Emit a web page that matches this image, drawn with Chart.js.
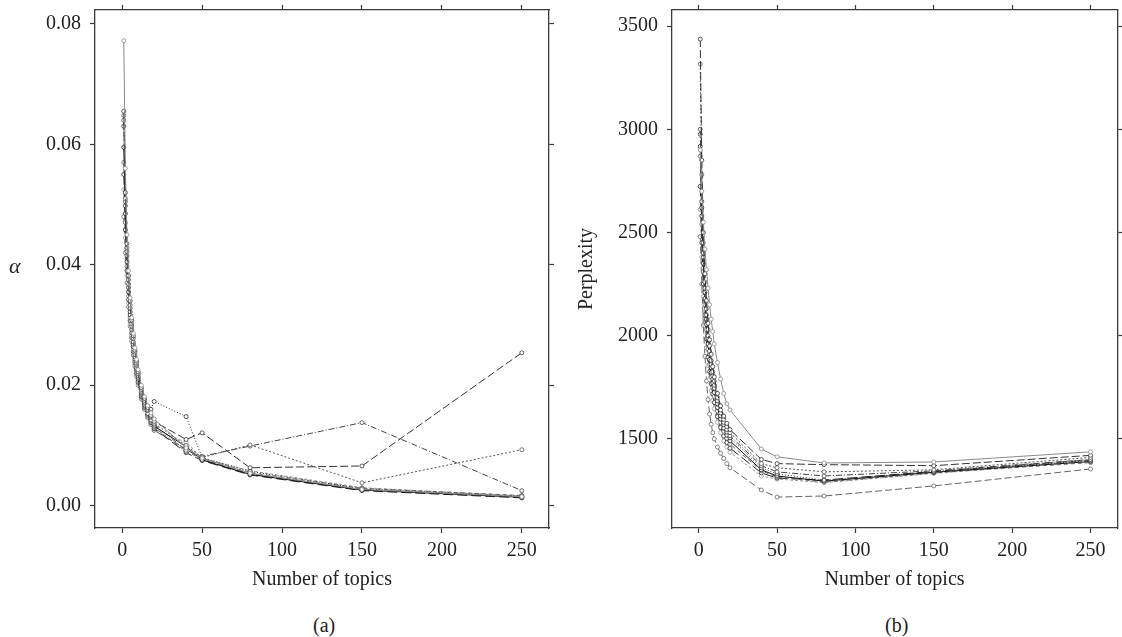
<!DOCTYPE html>
<html>
<head>
<meta charset="utf-8">
<script src="https://cdn.jsdelivr.net/npm/chart.js@4.4.1/dist/chart.umd.min.js"></script>
<style>
  html, body { margin: 0; padding: 0; background: #fff; }
  body { width: 1122px; height: 637px; position: relative; overflow: hidden;
         font-family: "Liberation Serif", "DejaVu Serif", serif; color: #222; }
  canvas { position: absolute; top: 0; }
  #chartA { left: 0; }
  #chartB { left: 561px; }
  .lbl { position: absolute; font-size: 20px; line-height: 20px; }
  #alpha { left: 9px; top: 256px; font-style: italic; font-size: 22px; }
  #capA { left: 313px; top: 615px; }
  #capB { left: 885px; top: 615px; }
</style>
</head>
<body>
<canvas id="chartA" width="561" height="596"></canvas>
<canvas id="chartB" width="561" height="596"></canvas>
<div class="lbl" id="alpha">α</div>
<div class="lbl" id="capA">(a)</div>
<div class="lbl" id="capB">(b)</div>

<script>
// ── Data ──────────────────────────────────────────────────────

const topics      = [1, 2, 3, 4, 5, 6, 7, 8, 9, 10, 12, 14, 16, 18, 20, 40, 50, 80, 150, 250];
const topicTicks  = [0, 50, 100, 150, 200, 250];
const alphaTicks  = [0, 0.02, 0.04, 0.06, 0.08];
const perpTicks   = [1500, 2000, 2500, 3000, 3500];

// α per run
const alpha1  = [0.0772,0.0560,0.0450,0.0390,0.0345,0.0312,0.0286,0.0262,0.0243,0.0226,0.0200,0.0181,0.0166,0.0154,0.0144,0.0096,0.0079,0.0054,0.0027,0.0015];
const alpha2  = [0.0655,0.0520,0.0435,0.0382,0.0340,0.0308,0.0282,0.0258,0.0240,0.0222,0.0196,0.0178,0.0163,0.0150,0.0140,0.0110,0.0121,0.0063,0.0066,0.0254];
const alpha3  = [0.0648,0.0510,0.0428,0.0375,0.0333,0.0302,0.0278,0.0255,0.0236,0.0219,0.0193,0.0175,0.0160,0.0148,0.0137,0.0100,0.0080,0.0101,0.0038,0.0093];
const alpha4  = [0.0640,0.0505,0.0422,0.0368,0.0328,0.0298,0.0272,0.0251,0.0233,0.0216,0.0190,0.0172,0.0158,0.0147,0.0135,0.0092,0.0082,0.0099,0.0138,0.0025];
const alpha5  = [0.0630,0.0498,0.0415,0.0362,0.0322,0.0292,0.0268,0.0247,0.0229,0.0213,0.0188,0.0170,0.0165,0.0160,0.0173,0.0148,0.0080,0.0057,0.0028,0.0016];
const alpha6  = [0.0595,0.0485,0.0405,0.0355,0.0317,0.0287,0.0264,0.0243,0.0226,0.0210,0.0185,0.0167,0.0153,0.0142,0.0132,0.0098,0.0076,0.0052,0.0026,0.0014];
const alpha7  = [0.0570,0.0470,0.0398,0.0348,0.0312,0.0283,0.0260,0.0240,0.0223,0.0207,0.0183,0.0165,0.0151,0.0140,0.0130,0.0090,0.0078,0.0055,0.0029,0.0017];
const alpha8  = [0.0550,0.0458,0.0390,0.0342,0.0307,0.0279,0.0256,0.0237,0.0220,0.0205,0.0181,0.0163,0.0150,0.0138,0.0128,0.0088,0.0075,0.0051,0.0025,0.0013];
const alpha9  = [0.0525,0.0445,0.0382,0.0336,0.0302,0.0275,0.0253,0.0234,0.0218,0.0203,0.0179,0.0161,0.0148,0.0137,0.0127,0.0105,0.0079,0.0058,0.0030,0.0016];
const alpha10 = [0.0480,0.0420,0.0370,0.0330,0.0298,0.0272,0.0250,0.0231,0.0215,0.0200,0.0177,0.0160,0.0146,0.0135,0.0125,0.0094,0.0077,0.0053,0.0027,0.0015];

// perplexity per run
const perp1  = [2900,2700,2550,2420,2320,2230,2150,2080,2020,1960,1870,1790,1720,1670,1640,1451,1413,1383,1388,1437];
const perp2  = [3437,2850,2500,2300,2170,2060,1980,1910,1850,1800,1720,1660,1610,1575,1545,1400,1380,1375,1370,1420];
const perp3  = [3316,2780,2450,2260,2130,2030,1950,1880,1825,1780,1700,1640,1595,1560,1530,1380,1360,1340,1350,1410];
const perp4  = [3000,2650,2400,2230,2100,2000,1925,1860,1805,1760,1685,1625,1580,1545,1515,1370,1340,1320,1345,1400];
const perp5  = [2976,2620,2380,2210,2080,1985,1910,1845,1790,1745,1670,1612,1568,1533,1505,1360,1330,1300,1340,1395];
const perp6  = [2917,2580,2350,2180,2055,1960,1885,1822,1770,1725,1652,1596,1552,1518,1490,1350,1320,1295,1338,1390];
const perp7  = [2869,2540,2310,2150,2030,1935,1860,1800,1748,1705,1635,1580,1537,1503,1475,1345,1315,1290,1335,1385];
const perp8  = [2723,2450,2250,2100,1985,1895,1825,1767,1718,1676,1608,1555,1514,1482,1455,1335,1310,1300,1342,1398];
const perp9  = [2612,2380,2190,2050,1940,1855,1788,1733,1686,1646,1580,1530,1490,1460,1435,1320,1305,1288,1332,1392];
const perp10 = [2480,2250,2050,1900,1780,1690,1620,1570,1530,1500,1460,1430,1405,1380,1360,1252,1218,1223,1272,1354];

const alphaRuns = [alpha1, alpha2, alpha3, alpha4, alpha5, alpha6, alpha7, alpha8, alpha9, alpha10];
const perpRuns  = [perp1, perp2, perp3, perp4, perp5, perp6, perp7, perp8, perp9, perp10];

// ── Styles ────────────────────────────────────────────────────

const lineColors = ['#8a8a8a','#333','#555','#444','#2a2a2a','#111','#666','#222','#999','#666'];
const lineDashes = [[], [8,3], [2,2], [6,2,1,2], [1,2], [], [4,3], [10,4], [3,2], [7,3]];
const inkColor   = '#222';
const frameColor = '#3a3a3a';
const serif      = '"Liberation Serif", "DejaVu Serif", serif';

function _runDatasets(runs) {
  return runs.map((vals, i) => ({
    label: 'run ' + (i + 1),
    data: vals.map((v, j) => ({ x: topics[j], y: v })),
    showLine: true,
    borderColor: lineColors[i],
    borderDash: lineDashes[i],
    borderWidth: 1,
    pointRadius: 2,
    pointBorderWidth: 0.8,
    pointBorderColor: lineColors[i],
    pointBackgroundColor: '#fff'
  }));
}

function _axis(pos, min, max, tickVals, size, extra) {
  const horiz = pos === 'top' || pos === 'bottom';
  return Object.assign({
    type: 'linear',
    position: pos,
    min: min, max: max,
    afterBuildTicks: s => { s.ticks = tickVals.map(v => ({ value: v })); },
    afterFit: s => {
      if (horiz) s.height = size; else s.width = size;
      // frame is placed by hand, no room for label overhang
      s.paddingTop = s.paddingBottom = s.paddingLeft = s.paddingRight = 0;
    },
    grid:   { drawOnChartArea: false, tickLength: 5, color: frameColor, tickWidth: 1.2 },
    border: { color: frameColor, width: 1.3 },
    ticks:  { display: false }
  }, extra || {});
}

function _drawChart(id, runs, yMin, yMax, yTicks, fmt, yTitle, leftW, rightW) {
  const font = { family: serif, size: 20 };
  return new Chart(document.getElementById(id), {
    type: 'scatter',
    data: { datasets: _runDatasets(runs) },
    options: {
      responsive: false,
      animation: false,
      layout: { padding: 0 },
      plugins: { legend: { display: false }, tooltip: { enabled: false } },
      scales: {
        x: _axis('bottom', -17, 267, topicTicks, 68, {
          ticks: { display: true, font: font, color: inkColor, padding: 6, maxRotation: 0, autoSkip: false },
          title: { display: true, text: 'Number of topics', font: font, color: inkColor, padding: { top: 4, bottom: 4 } }
        }),
        x2: _axis('top', -17, 267, topicTicks, 10),
        y: _axis('left', yMin, yMax, yTicks, leftW, {
          ticks: { display: true, font: font, color: inkColor, padding: 9, callback: fmt },
          title: { display: !!yTitle, text: yTitle || '', font: font, color: inkColor, padding: { top: 14, bottom: 0 } }
        }),
        y2: _axis('right', yMin, yMax, yTicks, rightW)
      }
    }
  });
}

_drawChart('chartA', alphaRuns, -0.0037, 0.0823, alphaTicks, v => v.toFixed(2), null, 95, 12);
_drawChart('chartB', perpRuns, 1068, 3578, perpTicks, v => String(v), 'Perplexity', 111, 1);
</script>
</body>
</html>
